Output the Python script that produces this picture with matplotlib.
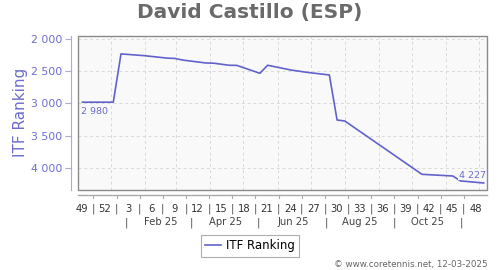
import numpy as np
import matplotlib
matplotlib.use("Agg")
import matplotlib.pyplot as plt
from matplotlib.patches import Rectangle

# ranking points (vertices)
dates = np.array([
    "2024-12-06", "2025-01-03", "2025-01-10", "2025-01-31", "2025-02-21",
    "2025-02-28", "2025-03-07", "2025-03-28", "2025-04-04", "2025-04-18",
    "2025-04-25", "2025-05-16", "2025-05-23", "2025-06-13", "2025-06-27",
    "2025-07-18", "2025-07-25", "2025-08-01", "2025-10-10", "2025-11-07",
    "2025-11-14", "2025-12-05",
], dtype="datetime64[D]")
ranks = [2980, 2980, 2235, 2262, 2300,
         2305, 2330, 2375, 2378, 2410,
         2412, 2534, 2410, 2483, 2518,
         2560, 3255, 3270, 4093, 4119,
         4195, 4227]

title = "David Castillo (ESP)"
series_name = "ITF Ranking"
yticks = [2000, 2500, 3000, 3500, 4000]
week_labels = ["49", "52", "3", "6", "9", "12", "15", "18", "21", "24",
               "27", "30", "33", "36", "39", "42", "45", "48"]
week49_monday = np.datetime64("2024-12-02")
month_labels = ["Feb 25", "Apr 25", "Jun 25", "Aug 25", "Oct 25"]
month_label_dates = np.array(["2025-02-15", "2025-04-15", "2025-06-15",
                              "2025-08-15", "2025-10-15"], dtype="datetime64[D]")
month_sep_dates = np.array(["2025-01-15", "2025-03-15", "2025-05-15",
                            "2025-07-15", "2025-09-15", "2025-11-15"], dtype="datetime64[D]")

LINE = "#6262cc"
TXT_BLUE = "#6c6cd0"
BG = "#f9f9f9"


def fmt(v):
    return f"{int(v):,}".replace(",", " ")


fig = plt.figure(figsize=(5, 2.7), dpi=100)
ax = fig.add_axes([0.156, 0.2963, 0.818, 0.5722])
ax.set_facecolor(BG)

ax.plot(dates, ranks, color=LINE, lw=1.2, zorder=3, label=series_name)

ax.set_xlim(np.datetime64("2024-12-02"), np.datetime64("2025-12-08"))
ax.set_ylim(4335, 1951)

# grid: month starts + y ticks
month_starts = np.arange(np.datetime64("2025-01"), np.datetime64("2026-01"),
                         dtype="datetime64[M]").astype("datetime64[D]")
for d in month_starts:
    ax.axvline(d, color="#d9d9d9", lw=0.7, ls=(0, (3, 3)), zorder=1)
for v in yticks:
    ax.axhline(v, color="#d9d9d9", lw=0.7, ls=(0, (3, 3)), zorder=1)

# frame + offset left axis
for s in ["top", "right", "bottom"]:
    ax.spines[s].set_visible(False)
ax.spines["left"].set_position(("outward", 5))
ax.spines["left"].set_color("#aaaadd")
ax.add_patch(Rectangle((0, 0), 1, 1, transform=ax.transAxes, fill=False,
                       edgecolor="#8a8a8a", lw=1.0, clip_on=False, zorder=5))

ax.set_yticks(yticks)
ax.set_yticklabels([fmt(v) for v in yticks])
ax.tick_params(axis="y", colors="#aaaadd", labelcolor=TXT_BLUE, labelsize=7.8,
               length=4, pad=2)
fig.text(21 / 500, 1 - 112.5 / 270, series_name, rotation=90, ha="center",
         va="center", color=TXT_BLUE, fontsize=11)

# x axis: custom week / month rows
ax.set_xticks([])
xtr = ax.get_xaxis_transform()
ax.plot([0, 1], [-0.032, -0.032], transform=ax.transAxes, color="#aaaaaa",
        lw=1.0, clip_on=False)
week_centers = week49_monday + np.arange(len(week_labels)) * 21
week_centers = week_centers.astype("datetime64[h]") + 84
week_seps = week49_monday + 14 + np.arange(len(week_labels) - 1) * 21
for d, lab in zip(week_centers, week_labels):
    ax.text(d, -0.12, lab, transform=xtr, ha="center", va="center",
            fontsize=7.2, color="#333333")
for d in week_seps:
    ax.plot([d, d], [-0.032, -0.05], transform=xtr, color="#aaaaaa", lw=0.8,
            clip_on=False)
    ax.text(d, -0.12, "|", transform=xtr, ha="center", va="center",
            fontsize=7.2, color="#555555")
for d, lab in zip(month_label_dates, month_labels):
    ax.text(d, -0.21, lab, transform=xtr, ha="center", va="center",
            fontsize=7.2, color="#444444")
for d in month_sep_dates:
    ax.text(d, -0.21, "|", transform=xtr, ha="center", va="center",
            fontsize=7.2, color="#555555")

# first / last value labels
ax.annotate(fmt(ranks[0]), (dates[0], ranks[0]), xytext=(-1, -7),
            textcoords="offset points", ha="left", va="center",
            fontsize=6.8, color=TXT_BLUE, zorder=4)
ax.annotate(fmt(ranks[-1]), (dates[-1], ranks[-1]), xytext=(1.7, 2.5),
            textcoords="offset points", ha="right", va="bottom",
            fontsize=6.8, color=TXT_BLUE, zorder=4,
            bbox=dict(boxstyle="square,pad=0.1", fc=BG, ec="none"))

fig.text(0.5, 1 - 12.5 / 270, title, ha="center", va="center", fontsize=14.5,
         fontweight="bold", color="#6a6a6a")

leg = fig.legend(loc="center", bbox_to_anchor=(0.5, 1 - 246 / 270),
                 fontsize=8.5, frameon=True, fancybox=False, handlelength=1.4,
                 handletextpad=0.4, borderpad=0.35, edgecolor="#999999")
leg.get_frame().set_linewidth(0.8)

fig.text(0.976, 1 - 265 / 270, "\u00a9 www.coretennis.net, 12-03-2025",
         ha="right", va="center", fontsize=6.3, color="#666666")

fig.savefig("out.png", dpi=100, facecolor="white")
